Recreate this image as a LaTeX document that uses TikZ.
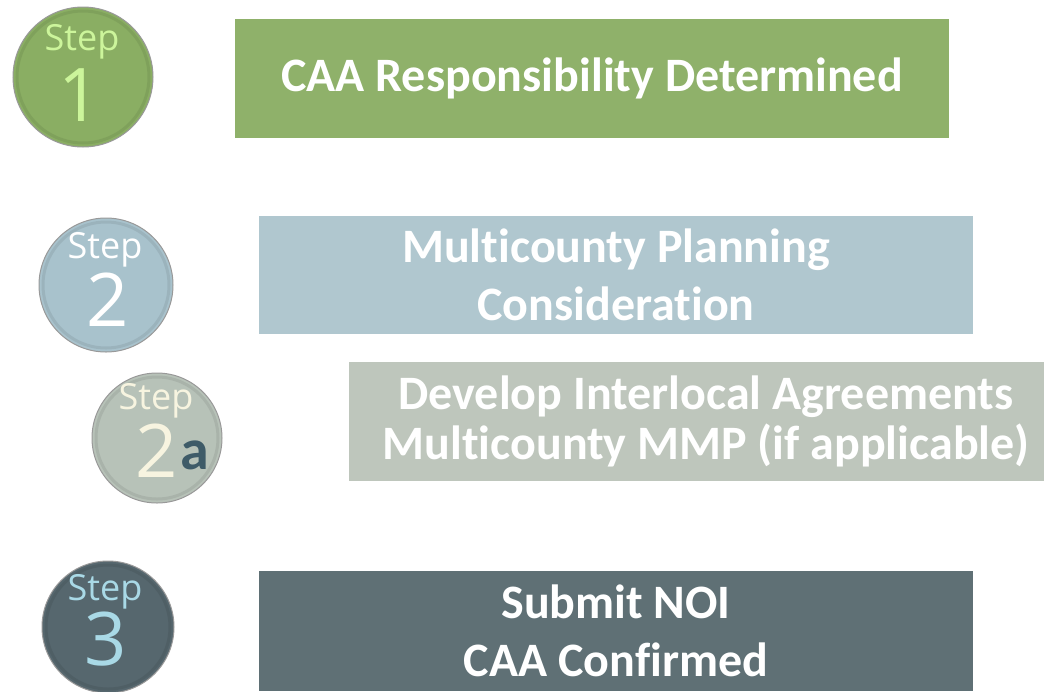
\documentclass[tikz,border=0pt]{standalone}
\usepackage{fontspec}
\setmainfont{Carlito}[Ligatures=NoCommon]
\newfontfamily\stepfont{Open Sans}
\usetikzlibrary{positioning}

\definecolor{boxgreen}{HTML}{8FB16A}
\definecolor{boxblue}{HTML}{B0C7CF}
\definecolor{boxgrey}{HTML}{BEC6BC}
\definecolor{boxslate}{HTML}{5F7075}
\definecolor{ballgreen}{HTML}{8AAE63}
\definecolor{ballblue}{HTML}{A8C2CC}
\definecolor{ballgrey}{HTML}{B7C2B8}
\definecolor{ballslate}{HTML}{56676E}
\definecolor{txtgreen}{HTML}{CCF59B}
\definecolor{txtcream}{HTML}{F7F4E0}
\definecolor{txtteal}{HTML}{3E5B68}
\definecolor{txtsky}{HTML}{A9D9E6}

\begin{document}
\begin{tikzpicture}[x=0.5pt, y=-0.5pt,
    box/.style={rectangle, fill=#1, minimum width=357pt, minimum height=59.5pt, inner sep=0pt,
        text=white, align=center, font=\fontsize{24pt}{29pt}\selectfont\bfseries},
    stepball/.style={circle, fill=#1, draw=black!40, line width=0.5pt, inner sep=0pt},
    steptxt/.style={text=#1, inner sep=0pt, font=\stepfont\fontsize{18pt}{18pt}\selectfont},
    stepnum/.style={text=#1, inner sep=0pt, font=\stepfont\fontsize{37pt}{37pt}\selectfont}]
    \useasboundingbox (0,0) rectangle (1044,691);

    \node[box=boxgreen] (b1) at (592,78.5) {CAA Responsibility Determined};
    \node[box=boxblue, minimum height=59pt] (b2) at (616,275) {Multicounty Planning\\Consideration};
    \node[box=boxgrey, font=\fontsize{24pt}{25pt}\selectfont\bfseries] (b3) at (706,421.5) {Develop Interlocal Agreements\\Multicounty MMP (if applicable)};
    \node[box=boxslate, minimum height=60pt] (b4) at (616,631) {Submit NOI\\CAA Confirmed};

    \node[stepball=ballgreen, minimum size=70pt] (s1) at (83,77) {};
    \draw[ballgreen!75!black, line width=1.5pt, opacity=0.3] (s1.center) circle (66);
    \node[steptxt=txtgreen] (s1t) at (82,42) {Step};
    \node[stepnum=txtgreen] (s1n) at (80,95) {1};

    \node[stepball=ballblue, minimum size=67pt] (s2) at (106,285) {};
    \draw[ballblue!75!black, line width=1.5pt, opacity=0.3] (s2.center) circle (63);
    \node[steptxt=white] (s2t) at (105,250) {Step};
    \node[stepnum=white] (s2n) at (108,300) {2};

    \node[stepball=ballgrey, minimum size=65pt] (s2a) at (157,438) {};
    \draw[ballgrey!75!black, line width=1.5pt, opacity=0.3] (s2a.center) circle (61);
    \node[steptxt=txtcream] (s2at) at (156,401) {Step};
    \node[stepnum=txtcream] (s2an) at (157,451) {2};
    \node[text=txtteal, inner sep=0pt, font=\fontsize{29pt}{29pt}\selectfont\bfseries, anchor=base west] (s2aa) at (180,469) {a};

    \node[stepball=ballslate, minimum size=66pt] (s3) at (108,627) {};
    \draw[ballslate!75!black, line width=1.5pt, opacity=0.3] (s3.center) circle (62);
    \node[steptxt=txtsky] (s3t) at (105,592) {Step};
    \node[stepnum=txtsky] (s3n) at (106,639) {3};
\end{tikzpicture}
\end{document}
